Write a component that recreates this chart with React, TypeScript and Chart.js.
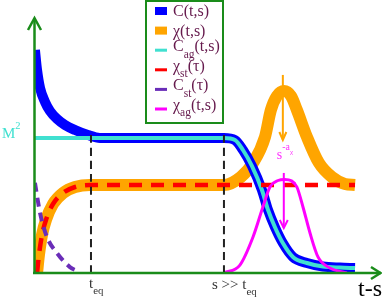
import React, { useEffect, useRef } from "react";
import { Chart, registerables } from "chart.js";

Chart.register(...registerables);

// ---- data (x: time in arbitrary units, y: correlation / response with M^2 = 1) ----
const T_EQ = 3;
const S_WAIT = 10;
const X_MAX = 18.32;
const Y_MAX = 2.022;
const M2 = 1;

const cX = [0.05, 0.16, 0.32, 0.58, 0.84, 1.21, 1.63, 2.16, 2.84, 3.47, 10.0, 10.58, 11.0, 11.47, 12.0, 12.32, 12.68, 13.1, 13.63, 14.37, 15.21, 16.1, 16.9];
const cY = [1.652, 1.504, 1.37, 1.267, 1.2, 1.141, 1.096, 1.059, 1.022, 1.0, 1.0, 0.985, 0.911, 0.793, 0.615, 0.467, 0.341, 0.222, 0.119, 0.074, 0.048, 0.04, 0.037];

const cAgX = [0, 10.0, 10.58, 11.0, 11.47, 12.0, 12.32, 12.68, 13.1, 13.63, 14.37, 15.21, 16.1, 16.9];
const cAgY = [1.0, 1.0, 0.985, 0.911, 0.793, 0.615, 0.467, 0.341, 0.222, 0.119, 0.074, 0.048, 0.04, 0.037];

const chiX = [0.16, 0.26, 0.42, 0.63, 1.0, 1.53, 2.16, 2.95, 10.0, 10.89, 11.53, 12.16, 12.47, 12.79, 13.16, 13.53, 13.84, 14.37, 15.0, 15.68, 16.37, 16.9];
const chiY = [0, 0.133, 0.281, 0.393, 0.511, 0.593, 0.637, 0.652, 0.652, 0.711, 0.815, 1.007, 1.207, 1.311, 1.348, 1.311, 1.207, 1.007, 0.815, 0.711, 0.659, 0.652];

const chiStX = [0.16, 0.26, 0.42, 0.63, 1.0, 1.53, 2.16, 2.95, 16.9];
const chiStY = [0, 0.133, 0.281, 0.393, 0.511, 0.593, 0.637, 0.652, 0.652];

const cStX = [0.05, 0.32, 0.68, 1.21, 1.89, 2.42];
const cStY = [0.667, 0.444, 0.267, 0.148, 0.044, 0.007];

const chiAgX = [10.0, 10.84, 11.53, 12.05, 12.42, 12.85, 13.2, 13.55, 13.84, 14.16, 14.53, 14.95, 15.58, 16.47];
const chiAgY = [0, 0.059, 0.267, 0.489, 0.637, 0.685, 0.693, 0.683, 0.637, 0.489, 0.296, 0.119, 0.037, 0];

const seriesLabels = ["C(t,s)", "χ(t,s)", "C_ag(t,s)", "χ_st(τ)", "C_st(τ)", "χ_ag(t,s)"];

// annotation arrows (x, from y, to y) in data units
const chiArrow = [13.1, 1.467, 0.985];
const chiAgArrow = [13.15, 0.741, 0.333];
const VLINE_TOP = 1.037;

const LABEL_M2 = "M^{2}";
const LABEL_TEQ = "t_eq";
const LABEL_S = "s >> t_eq";
const LABEL_X = "t-s";
const LABEL_EXP = "s^{-a_χ}";

const SERIF = '"Liberation Serif", "Times New Roman", serif';
const GREEN = "#1a8c1a";

type Seg = { t: string; size: number; dy: number };

function parseRich(str: string, size: number, dy = 0): Seg[] {
  const out: Seg[] = [];
  let buf = "";
  const flush = () => {
    if (buf) out.push({ t: buf, size, dy });
    buf = "";
  };
  let i = 0;
  while (i < str.length) {
    const ch = str[i];
    if (ch === "_") {
      flush();
      i++;
      let sub = "";
      while (i < str.length && /[A-Za-z\u03b1-\u03c9]/.test(str[i])) sub += str[i++];
      out.push({ t: sub, size: size * 0.72, dy: dy + size * 0.4 });
    } else if (ch === "^") {
      flush();
      i++;
      let inner = "";
      if (str[i] === "{") {
        i++;
        let depth = 1;
        while (i < str.length) {
          if (str[i] === "{") depth++;
          if (str[i] === "}") {
            depth--;
            if (depth === 0) break;
          }
          inner += str[i++];
        }
        i++;
      } else {
        inner = str[i++];
      }
      out.push(...parseRich(inner, size * 0.7, dy - size * 0.62));
    } else {
      buf += ch;
      i++;
    }
  }
  flush();
  return out;
}

function drawRich(ctx: CanvasRenderingContext2D, str: string, size: number, x: number, y: number, color: string, align = "left") {
  const segs = parseRich(str, size);
  let w = 0;
  for (const s of segs) {
    ctx.font = `${s.size}px ${SERIF}`;
    w += ctx.measureText(s.t).width;
  }
  let cx = align === "right" ? x - w : align === "center" ? x - w / 2 : x;
  ctx.fillStyle = color;
  ctx.textBaseline = "alphabetic";
  ctx.textAlign = "left";
  for (const s of segs) {
    ctx.font = `${s.size}px ${SERIF}`;
    ctx.fillText(s.t, cx, y + s.dy);
    cx += ctx.measureText(s.t).width;
  }
}

function chevronDown(ctx: CanvasRenderingContext2D, x: number, y: number, hw: number, h: number) {
  ctx.beginPath();
  ctx.moveTo(x - hw, y - h);
  ctx.lineTo(x, y);
  ctx.lineTo(x + hw, y - h);
  ctx.stroke();
}

const pts = (xs: number[], ys: number[]) => xs.map((x, i) => ({ x, y: ys[i] }));

const schematicPlugin = {
  id: "schematic",
  beforeDraw(chart: any) {
    const ctx = chart.ctx;
    ctx.save();
    ctx.fillStyle = "#ffffff";
    ctx.fillRect(0, 0, chart.width, chart.height);
    ctx.restore();
  },
  afterDraw(chart: any) {
    const ctx: CanvasRenderingContext2D = chart.ctx;
    const xs = chart.scales.x;
    const ys = chart.scales.y;
    const area = chart.chartArea;
    ctx.save();

    // arrows
    const drawArrow = (a: number[], color: string, hw: number) => {
      const px = xs.getPixelForValue(a[0]);
      const y1 = ys.getPixelForValue(a[1]);
      const y2 = ys.getPixelForValue(a[2]);
      ctx.strokeStyle = color;
      ctx.lineWidth = 2;
      ctx.beginPath();
      ctx.moveTo(px, y1);
      ctx.lineTo(px, y2);
      ctx.stroke();
      chevronDown(ctx, px, y2, hw, 8);
    };
    drawArrow(chiArrow, "#ffa500", 3.5);
    drawArrow(chiAgArrow, "#ff00ff", 4);

    // axes
    const ox = area.left + 0.5;
    const oy = area.bottom;
    ctx.strokeStyle = GREEN;
    ctx.lineWidth = 2.5;
    ctx.beginPath();
    ctx.moveTo(ox, oy + 1);
    ctx.lineTo(ox, 18);
    ctx.stroke();
    ctx.beginPath();
    ctx.moveTo(ox - 6.5, 30);
    ctx.lineTo(ox, 18);
    ctx.lineTo(ox + 6.5, 30);
    ctx.stroke();
    ctx.beginPath();
    ctx.moveTo(area.left - 1, oy);
    ctx.lineTo(chart.width - 1, oy);
    ctx.stroke();
    ctx.beginPath();
    ctx.moveTo(chart.width - 11, oy - 6);
    ctx.lineTo(chart.width - 1.5, oy);
    ctx.lineTo(chart.width - 11, oy + 6);
    ctx.stroke();

    // labels
    drawRich(ctx, LABEL_M2, 15, 2, ys.getPixelForValue(M2), "#40e0d0");
    drawRich(ctx, LABEL_TEQ, 15, xs.getPixelForValue(T_EQ) - 2, oy + 15, "#333333");
    drawRich(ctx, LABEL_S, 15, xs.getPixelForValue(S_WAIT) - 12, oy + 16, "#333333");
    drawRich(ctx, LABEL_X, 24, chart.width, oy + 23, "#000000", "right");
    drawRich(ctx, LABEL_EXP, 14, xs.getPixelForValue(chiArrow[0]) - 6, ys.getPixelForValue(0.844), "#ff33ff");

    // legend
    const lx = 146;
    const ly = 1;
    const lw = 77;
    const lh = 122;
    ctx.fillStyle = "#ffffff";
    ctx.fillRect(lx, ly, lw, lh);
    ctx.strokeStyle = GREEN;
    ctx.lineWidth = 2;
    ctx.strokeRect(lx, ly, lw, lh);
    const items = chart.data.datasets.filter((d: any) => d.legendKind);
    items.sort((a: any, b: any) => a.legendIndex - b.legendIndex);
    items.forEach((d: any, i: number) => {
      const cy = 11 + i * 19.6;
      ctx.fillStyle = d.borderColor;
      if (d.legendKind === "box") ctx.fillRect(155, cy - 4, 12, 8);
      else ctx.fillRect(155, cy - 1.5, 12, 3);
      const hasSub = d.label.includes("_");
      drawRich(ctx, d.label, 16, 173, hasSub ? cy + 1 : cy + 5, "#661a4d");
    });
    ctx.restore();
  },
};

export default function App() {
  const ref = useRef<HTMLCanvasElement | null>(null);
  useEffect(() => {
    document.body.style.margin = "0";
    if (!ref.current) return;
    const common = { pointRadius: 0, fill: false, borderCapStyle: "butt", borderJoinStyle: "round", cubicInterpolationMode: "monotone" };
    const chart = new Chart(ref.current, {
      type: "line",
      data: {
        datasets: [
          { ...common, label: "teq", data: pts([T_EQ, T_EQ], [0, VLINE_TOP]), borderColor: "#222222", borderWidth: 2, borderDash: [8, 5], order: -1 },
          { ...common, label: "s", data: pts([S_WAIT, S_WAIT], [0, VLINE_TOP]), borderColor: "#222222", borderWidth: 2, borderDash: [8, 5], order: -1 },
          { ...common, label: seriesLabels[5], data: pts(chiAgX, chiAgY), borderColor: "#ff00ff", borderWidth: 3, order: 0, legendKind: "line", legendIndex: 5 },
          { ...common, label: seriesLabels[4], data: pts(cStX, cStY), borderColor: "#6a2db8", borderWidth: 4, borderDash: [9, 6], order: 1, legendKind: "line", legendIndex: 4 },
          { ...common, label: seriesLabels[3], data: pts(chiStX, chiStY), borderColor: "#ff0000", borderWidth: 4.5, borderDash: [13, 9], order: 2, legendKind: "line", legendIndex: 3 },
          { ...common, label: seriesLabels[2], data: pts(cAgX, cAgY), borderColor: "#40e0d0", borderWidth: 4, order: 3, legendKind: "line", legendIndex: 2 },
          { ...common, label: seriesLabels[0], data: pts(cX, cY), borderColor: "#0000ff", borderWidth: 10, order: 4, legendKind: "box", legendIndex: 0 },
          { ...common, label: seriesLabels[1], data: pts(chiX, chiY), borderColor: "#ffa500", borderWidth: 12, order: 5, legendKind: "box", legendIndex: 1 },
        ] as any,
      },
      options: {
        animation: false,
        responsive: false,
        devicePixelRatio: 1,
        layout: { padding: { left: 34, right: 0, top: 0, bottom: 28 } },
        scales: {
          x: { type: "linear", min: 0, max: X_MAX, display: false },
          y: { type: "linear", min: 0, max: Y_MAX, display: false },
        },
        plugins: { legend: { display: false }, tooltip: { enabled: false } },
        elements: { line: { tension: 0.4 } },
      } as any,
      plugins: [schematicPlugin],
    });
    return () => chart.destroy();
  }, []);
  return (
    <div style={{ width: 382, height: 301 }}>
      <canvas ref={ref} width={382} height={301} style={{ display: "block" }} />
    </div>
  );
}
